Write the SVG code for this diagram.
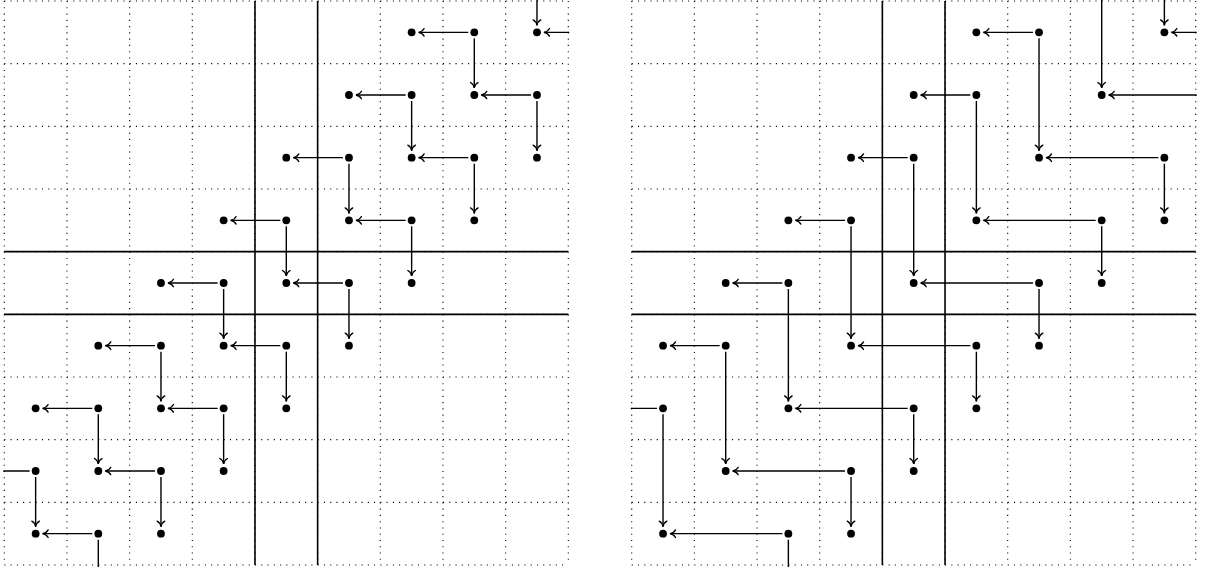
<svg xmlns="http://www.w3.org/2000/svg" xmlns:xlink="http://www.w3.org/1999/xlink" width="1209" height="572" viewBox="0 0 1209 572">
<style>
.dot{stroke:#000;stroke-width:1.1;stroke-dasharray:1.1 5.1667;fill:none}
.solid{stroke:#000;stroke-width:1.6;fill:none}
.arr{stroke:#000;stroke-width:1.4;fill:none;marker-end:url(#tip)}
.node circle{fill:#000}
</style>
<defs>
<marker id="tip" markerUnits="userSpaceOnUse" viewBox="-8 -5 10 10" markerWidth="10" markerHeight="10" refX="0" refY="0" orient="auto" overflow="visible">
<path d="M-5.5,-3.8 C-4.2,-1.4 -1.8,-0.3 0,0 C-1.8,0.3 -4.2,1.4 -5.5,3.8" fill="none" stroke="#000" stroke-width="1.3" stroke-linecap="round"/>
</marker>
<clipPath id="clip"><rect x="-1" y="-2" width="566" height="568"/></clipPath>
<path id="grid" d="M0 0H564M0 62.667H564M0 125.333H564M0 188H564M0 376H564M0 438.667H564M0 501.333H564M0 564H564M0 0V564M62.667 0V564M125.333 0V564M188 0V564M376 0V564M438.667 0V564M501.333 0V564M564 0V564M0 250.667H250.667M313.333 250.667H564M0 313.333H250.667M313.333 313.333H564M250.667 0V250.667M313.333 0V250.667M250.667 313.333V564M313.333 313.333V564"/>
<path id="axes" d="M0 250.667H564M0 313.333H564M250.667 0V564M313.333 0V564"/>
</defs>

<g id="left-panel" transform="translate(4.3,1)">
<g id="left-grid">
<use xlink:href="#grid" class="dot"/>
<use xlink:href="#axes" class="solid"/>
</g>
<g id="left-connectors" clip-path="url(#clip)">
<line class="arr" x1="532.67" y1="-25.33" x2="532.67" y2="24.33"/>
<line class="arr" x1="464" y1="31.33" x2="414.33" y2="31.33"/>
<line class="arr" x1="470" y1="37.33" x2="470" y2="87"/>
<line class="arr" x1="401.33" y1="94" x2="351.67" y2="94"/>
<line class="arr" x1="407.33" y1="100" x2="407.33" y2="149.67"/>
<line class="arr" x1="338.67" y1="156.67" x2="289" y2="156.67"/>
<line class="arr" x1="344.67" y1="162.67" x2="344.67" y2="212.33"/>
<line class="arr" x1="276" y1="219.33" x2="226.33" y2="219.33"/>
<line class="arr" x1="282" y1="225.33" x2="282" y2="275"/>
<line class="arr" x1="213.33" y1="282" x2="163.67" y2="282"/>
<line class="arr" x1="219.33" y1="288" x2="219.33" y2="337.67"/>
<line class="arr" x1="150.67" y1="344.67" x2="101" y2="344.67"/>
<line class="arr" x1="156.67" y1="350.67" x2="156.67" y2="400.33"/>
<line class="arr" x1="88" y1="407.33" x2="38.33" y2="407.33"/>
<line class="arr" x1="94" y1="413.33" x2="94" y2="463"/>
<line class="arr" x1="25.33" y1="470" x2="-24.33" y2="470"/>
<line class="arr" x1="31.33" y1="476" x2="31.33" y2="525.67"/>
<line class="arr" x1="589.33" y1="31.33" x2="539.67" y2="31.33"/>
<line class="arr" x1="526.67" y1="94" x2="477" y2="94"/>
<line class="arr" x1="532.67" y1="100" x2="532.67" y2="149.67"/>
<line class="arr" x1="464" y1="156.67" x2="414.33" y2="156.67"/>
<line class="arr" x1="470" y1="162.67" x2="470" y2="212.33"/>
<line class="arr" x1="401.33" y1="219.33" x2="351.67" y2="219.33"/>
<line class="arr" x1="407.33" y1="225.33" x2="407.33" y2="275"/>
<line class="arr" x1="338.67" y1="282" x2="289" y2="282"/>
<line class="arr" x1="344.67" y1="288" x2="344.67" y2="337.67"/>
<line class="arr" x1="276" y1="344.67" x2="226.33" y2="344.67"/>
<line class="arr" x1="282" y1="350.67" x2="282" y2="400.33"/>
<line class="arr" x1="213.33" y1="407.33" x2="163.67" y2="407.33"/>
<line class="arr" x1="219.33" y1="413.33" x2="219.33" y2="463"/>
<line class="arr" x1="150.67" y1="470" x2="101" y2="470"/>
<line class="arr" x1="156.67" y1="476" x2="156.67" y2="525.67"/>
<line class="arr" x1="88" y1="532.67" x2="38.33" y2="532.67"/>
<line class="arr" x1="94" y1="538.67" x2="94" y2="588.33"/>
</g>
<g id="left-nodes" class="node">
<g id="L-6-0"><circle cx="407.33" cy="31.33" r="3.9"/></g>
<g id="L-7-0"><circle cx="470" cy="31.33" r="3.9"/></g>
<g id="L-8-0"><circle cx="532.67" cy="31.33" r="3.9"/></g>
<g id="L-5-1"><circle cx="344.67" cy="94" r="3.9"/></g>
<g id="L-6-1"><circle cx="407.33" cy="94" r="3.9"/></g>
<g id="L-7-1"><circle cx="470" cy="94" r="3.9"/></g>
<g id="L-8-1"><circle cx="532.67" cy="94" r="3.9"/></g>
<g id="L-4-2"><circle cx="282" cy="156.67" r="3.9"/></g>
<g id="L-5-2"><circle cx="344.67" cy="156.67" r="3.9"/></g>
<g id="L-6-2"><circle cx="407.33" cy="156.67" r="3.9"/></g>
<g id="L-7-2"><circle cx="470" cy="156.67" r="3.9"/></g>
<g id="L-8-2"><circle cx="532.67" cy="156.67" r="3.9"/></g>
<g id="L-3-3"><circle cx="219.33" cy="219.33" r="3.9"/></g>
<g id="L-4-3"><circle cx="282" cy="219.33" r="3.9"/></g>
<g id="L-5-3"><circle cx="344.67" cy="219.33" r="3.9"/></g>
<g id="L-6-3"><circle cx="407.33" cy="219.33" r="3.9"/></g>
<g id="L-7-3"><circle cx="470" cy="219.33" r="3.9"/></g>
<g id="L-2-4"><circle cx="156.67" cy="282" r="3.9"/></g>
<g id="L-3-4"><circle cx="219.33" cy="282" r="3.9"/></g>
<g id="L-4-4"><circle cx="282" cy="282" r="3.9"/></g>
<g id="L-5-4"><circle cx="344.67" cy="282" r="3.9"/></g>
<g id="L-6-4"><circle cx="407.33" cy="282" r="3.9"/></g>
<g id="L-1-5"><circle cx="94" cy="344.67" r="3.9"/></g>
<g id="L-2-5"><circle cx="156.67" cy="344.67" r="3.9"/></g>
<g id="L-3-5"><circle cx="219.33" cy="344.67" r="3.9"/></g>
<g id="L-4-5"><circle cx="282" cy="344.67" r="3.9"/></g>
<g id="L-5-5"><circle cx="344.67" cy="344.67" r="3.9"/></g>
<g id="L-0-6"><circle cx="31.33" cy="407.33" r="3.9"/></g>
<g id="L-1-6"><circle cx="94" cy="407.33" r="3.9"/></g>
<g id="L-2-6"><circle cx="156.67" cy="407.33" r="3.9"/></g>
<g id="L-3-6"><circle cx="219.33" cy="407.33" r="3.9"/></g>
<g id="L-4-6"><circle cx="282" cy="407.33" r="3.9"/></g>
<g id="L-0-7"><circle cx="31.33" cy="470" r="3.9"/></g>
<g id="L-1-7"><circle cx="94" cy="470" r="3.9"/></g>
<g id="L-2-7"><circle cx="156.67" cy="470" r="3.9"/></g>
<g id="L-3-7"><circle cx="219.33" cy="470" r="3.9"/></g>
<g id="L-0-8"><circle cx="31.33" cy="532.67" r="3.9"/></g>
<g id="L-1-8"><circle cx="94" cy="532.67" r="3.9"/></g>
<g id="L-2-8"><circle cx="156.67" cy="532.67" r="3.9"/></g>
</g>
</g>

<g id="right-panel" transform="translate(631.7,1)">
<g id="right-grid">
<use xlink:href="#grid" class="dot"/>
<use xlink:href="#axes" class="solid"/>
</g>
<g id="right-connectors" clip-path="url(#clip)">
<line class="arr" x1="532.67" y1="-88" x2="532.67" y2="24.33"/>
<line class="arr" x1="470" y1="-25.33" x2="470" y2="87"/>
<line class="arr" x1="401.33" y1="31.33" x2="351.67" y2="31.33"/>
<line class="arr" x1="407.33" y1="37.33" x2="407.33" y2="149.67"/>
<line class="arr" x1="338.67" y1="94" x2="289" y2="94"/>
<line class="arr" x1="344.67" y1="100" x2="344.67" y2="212.33"/>
<line class="arr" x1="276" y1="156.67" x2="226.33" y2="156.67"/>
<line class="arr" x1="282" y1="162.67" x2="282" y2="275"/>
<line class="arr" x1="213.33" y1="219.33" x2="163.67" y2="219.33"/>
<line class="arr" x1="219.33" y1="225.33" x2="219.33" y2="337.67"/>
<line class="arr" x1="150.67" y1="282" x2="101" y2="282"/>
<line class="arr" x1="156.67" y1="288" x2="156.67" y2="400.33"/>
<line class="arr" x1="88" y1="344.67" x2="38.33" y2="344.67"/>
<line class="arr" x1="94" y1="350.67" x2="94" y2="463"/>
<line class="arr" x1="25.33" y1="407.33" x2="-24.33" y2="407.33"/>
<line class="arr" x1="31.33" y1="413.33" x2="31.33" y2="525.67"/>
<line class="arr" x1="652" y1="31.33" x2="539.67" y2="31.33"/>
<line class="arr" x1="589.33" y1="94" x2="477" y2="94"/>
<line class="arr" x1="526.67" y1="156.67" x2="414.33" y2="156.67"/>
<line class="arr" x1="532.67" y1="162.67" x2="532.67" y2="212.33"/>
<line class="arr" x1="464" y1="219.33" x2="351.67" y2="219.33"/>
<line class="arr" x1="470" y1="225.33" x2="470" y2="275"/>
<line class="arr" x1="401.33" y1="282" x2="289" y2="282"/>
<line class="arr" x1="407.33" y1="288" x2="407.33" y2="337.67"/>
<line class="arr" x1="338.67" y1="344.67" x2="226.33" y2="344.67"/>
<line class="arr" x1="344.67" y1="350.67" x2="344.67" y2="400.33"/>
<line class="arr" x1="276" y1="407.33" x2="163.67" y2="407.33"/>
<line class="arr" x1="282" y1="413.33" x2="282" y2="463"/>
<line class="arr" x1="213.33" y1="470" x2="101" y2="470"/>
<line class="arr" x1="219.33" y1="476" x2="219.33" y2="525.67"/>
<line class="arr" x1="150.67" y1="532.67" x2="38.33" y2="532.67"/>
<line class="arr" x1="156.67" y1="538.67" x2="156.67" y2="588.33"/>
</g>
<g id="right-nodes" class="node">
<g id="R-5-0"><circle cx="344.67" cy="31.33" r="3.9"/></g>
<g id="R-6-0"><circle cx="407.33" cy="31.33" r="3.9"/></g>
<g id="R-8-0"><circle cx="532.67" cy="31.33" r="3.9"/></g>
<g id="R-4-1"><circle cx="282" cy="94" r="3.9"/></g>
<g id="R-5-1"><circle cx="344.67" cy="94" r="3.9"/></g>
<g id="R-7-1"><circle cx="470" cy="94" r="3.9"/></g>
<g id="R-3-2"><circle cx="219.33" cy="156.67" r="3.9"/></g>
<g id="R-4-2"><circle cx="282" cy="156.67" r="3.9"/></g>
<g id="R-6-2"><circle cx="407.33" cy="156.67" r="3.9"/></g>
<g id="R-8-2"><circle cx="532.67" cy="156.67" r="3.9"/></g>
<g id="R-2-3"><circle cx="156.67" cy="219.33" r="3.9"/></g>
<g id="R-3-3"><circle cx="219.33" cy="219.33" r="3.9"/></g>
<g id="R-5-3"><circle cx="344.67" cy="219.33" r="3.9"/></g>
<g id="R-7-3"><circle cx="470" cy="219.33" r="3.9"/></g>
<g id="R-8-3"><circle cx="532.67" cy="219.33" r="3.9"/></g>
<g id="R-1-4"><circle cx="94" cy="282" r="3.9"/></g>
<g id="R-2-4"><circle cx="156.67" cy="282" r="3.9"/></g>
<g id="R-4-4"><circle cx="282" cy="282" r="3.9"/></g>
<g id="R-6-4"><circle cx="407.33" cy="282" r="3.9"/></g>
<g id="R-7-4"><circle cx="470" cy="282" r="3.9"/></g>
<g id="R-0-5"><circle cx="31.33" cy="344.67" r="3.9"/></g>
<g id="R-1-5"><circle cx="94" cy="344.67" r="3.9"/></g>
<g id="R-3-5"><circle cx="219.33" cy="344.67" r="3.9"/></g>
<g id="R-5-5"><circle cx="344.67" cy="344.67" r="3.9"/></g>
<g id="R-6-5"><circle cx="407.33" cy="344.67" r="3.9"/></g>
<g id="R-0-6"><circle cx="31.33" cy="407.33" r="3.9"/></g>
<g id="R-2-6"><circle cx="156.67" cy="407.33" r="3.9"/></g>
<g id="R-4-6"><circle cx="282" cy="407.33" r="3.9"/></g>
<g id="R-5-6"><circle cx="344.67" cy="407.33" r="3.9"/></g>
<g id="R-1-7"><circle cx="94" cy="470" r="3.9"/></g>
<g id="R-3-7"><circle cx="219.33" cy="470" r="3.9"/></g>
<g id="R-4-7"><circle cx="282" cy="470" r="3.9"/></g>
<g id="R-0-8"><circle cx="31.33" cy="532.67" r="3.9"/></g>
<g id="R-2-8"><circle cx="156.67" cy="532.67" r="3.9"/></g>
<g id="R-3-8"><circle cx="219.33" cy="532.67" r="3.9"/></g>
</g>
</g>
</svg>
